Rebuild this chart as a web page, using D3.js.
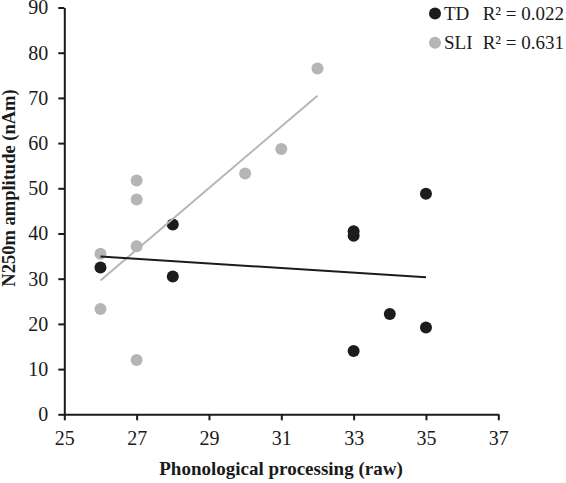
<!DOCTYPE html>
<html><head><meta charset="utf-8">
<script src="https://cdn.jsdelivr.net/npm/d3@7"></script>
<style>body{margin:0;background:#fff;}svg{display:block;}</style>
</head><body>
<svg id="chart" width="566" height="483"></svg>
<script>
const tdX = [26, 28, 28, 33, 33, 33, 34, 35, 35];
const tdY = [32.5, 42, 30.5, 40.5, 39.5, 14, 22.2, 48.8, 19.2];
const sliX = [26, 26, 27, 27, 27, 27, 30, 31, 32];
const sliY = [35.5, 23.3, 51.7, 47.5, 37.2, 12, 53.3, 58.7, 76.5];
const tdTrendX = [26, 35];
const tdTrendY = [34.9, 30.3];
const sliTrendX = [26, 32];
const sliTrendY = [29.6, 70.5];
const xTicks = [25, 27, 29, 31, 33, 35, 37];
const yTicks = [0, 10, 20, 30, 40, 50, 60, 70, 80, 90];
const seriesNames = ["TD", "SLI"];
const r2Labels = ["R\u00B2 = 0.022", "R\u00B2 = 0.631"];
const colors = ["#1c1c1c", "#b5b5b5"];

const svg = d3.select("#chart");
const x = d3.scaleLinear().domain([25, 37]).range([64.3, 498.3]);
const y = d3.scaleLinear().domain([0, 90]).range([414.3, 7.5]);
const font = "'Liberation Serif', 'Times New Roman', serif";

const xAxis = svg.append("g").attr("transform", `translate(0,${y(0)})`)
  .call(d3.axisBottom(x).tickValues(xTicks).tickSize(6).tickSizeOuter(0).tickPadding(11));
const yAxis = svg.append("g").attr("transform", `translate(${x(25)},0)`)
  .call(d3.axisLeft(y).tickValues(yTicks).tickSize(6).tickSizeOuter(0).tickPadding(10));
[xAxis, yAxis].forEach(a => {
  a.selectAll("path").attr("stroke", "#1a1a1a").attr("stroke-width", 2);
  a.selectAll("line").attr("stroke", "#1a1a1a").attr("stroke-width", 2);
  a.selectAll("text").attr("font-family", font).attr("font-size", 20).attr("fill", "#1a1a1a");
});

const series = [
  {xs: sliX, ys: sliY, c: colors[1]},
  {xs: tdX, ys: tdY, c: colors[0]}
];
series.forEach(s => {
  svg.append("g").selectAll("circle").data(d3.zip(s.xs, s.ys)).join("circle")
    .attr("cx", d => x(d[0])).attr("cy", d => y(d[1])).attr("r", 6).attr("fill", s.c);
});

const line = d3.line().x(d => x(d[0])).y(d => y(d[1]));
svg.append("path").datum(d3.zip(sliTrendX, sliTrendY)).attr("d", line)
  .attr("stroke", colors[1]).attr("stroke-width", 2).attr("fill", "none");
svg.append("path").datum(d3.zip(tdTrendX, tdTrendY)).attr("d", line)
  .attr("stroke", colors[0]).attr("stroke-width", 2).attr("fill", "none");

// legend
const leg = svg.append("g");
seriesNames.forEach((n, i) => {
  const ly = 13.5 + i * 29.3;
  leg.append("circle").attr("cx", 435).attr("cy", ly).attr("r", 6).attr("fill", colors[i]);
  leg.append("text").attr("x", 444).attr("y", ly + 6).attr("font-family", font)
    .attr("font-size", 19).attr("fill", "#1a1a1a").text(n);
  leg.append("text").attr("x", 564).attr("y", ly + 6).attr("text-anchor", "end").attr("font-family", font)
    .attr("font-size", 19).attr("fill", "#1a1a1a").text(r2Labels[i]);
});

svg.append("text").attr("x", 281).attr("y", 475).attr("text-anchor", "middle")
  .attr("font-family", font).attr("font-size", 19).attr("font-weight", "bold")
  .attr("fill", "#1a1a1a").text("Phonological processing (raw)");
svg.append("text").attr("transform", "translate(15,188) rotate(-90)").attr("text-anchor", "middle")
  .attr("font-family", font).attr("font-size", 18.5).attr("font-weight", "bold")
  .attr("fill", "#1a1a1a").text("N250m amplitude (nAm)");
</script>
</body></html>
